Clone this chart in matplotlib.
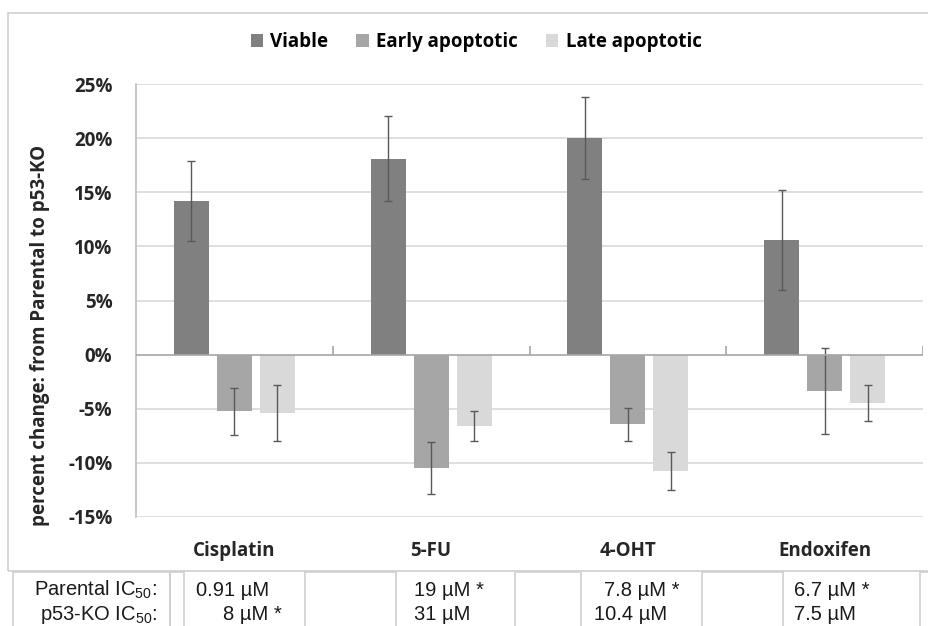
import matplotlib
matplotlib.use('Agg')
import matplotlib.pyplot as plt
import matplotlib.patches as mpatches
import numpy as np

# --- data ---
categories = ['Cisplatin', '5-FU', '4-OHT', 'Endoxifen']
series = ['Viable', 'Early apoptotic', 'Late apoptotic']

viable = [14.2, 18.1, 20.0, 10.6]
viable_err = [3.7, 3.9, 3.8, 4.6]
early = [-5.25, -10.5, -6.45, -3.35]
early_err = [2.15, 2.4, 1.5, 4.0]
late = [-5.4, -6.6, -10.75, -4.45]
late_err = [2.6, 1.4, 1.75, 1.65]

yticks = [-15, -10, -5, 0, 5, 10, 15, 20, 25]

parental_ic50 = ['0.91 µM', '19 µM *', '7.8 µM *', '6.7 µM *']
ko_ic50 = ['8 µM *', '31 µM', '10.4 µM', '7.5 µM']

# --- style ---
colors = ['#808080', '#a6a6a6', '#d9d9d9']
ERR_COLOR = '#595959'
GRID_COLOR = '#d9d9d9'
BOX_COLOR = '#cfcfcf'
W, H = 929, 626

plt.rcParams['font.family'] = ['Open Sans', 'DejaVu Sans']
plt.rcParams['mathtext.fontset'] = 'custom'
plt.rcParams['mathtext.rm'] = 'Liberation Sans'
plt.rcParams['mathtext.it'] = 'Liberation Sans:italic'
plt.rcParams['mathtext.bf'] = 'Liberation Sans:bold'


def fx(px):
    return px / W


def fy(py):
    return 1 - py / H


fig = plt.figure(figsize=(W / 100, H / 100), dpi=100)
fig.patch.set_facecolor('white')

# outer chart frame and table boxes (screenshot layout)
def box(x0, y0, x1, y1):
    fig.patches.append(mpatches.Rectangle((fx(x0), fy(y1)), fx(x1) - fx(x0), fy(y0) - fy(y1),
                                          transform=fig.transFigure, fill=False,
                                          edgecolor=BOX_COLOR, lw=1.2, zorder=0))

box(8, 13, 940, 571)
box(13, 572, 170, 640)
box(170, 572, 184, 640)
box(305, 572, 396, 640)
box(515, 572, 581, 640)
box(702, 572, 783, 640)
box(920, 572, 940, 640)

ax = fig.add_axes([fx(136), fy(517), fx(923) - fx(136), fy(84) - fy(517)])

x = np.arange(len(categories))
bw = 0.178
off = 0.218
err_kw = dict(ecolor=ERR_COLOR, elinewidth=1.0, capsize=2.6, capthick=1.0)
ax.bar(x - off, viable, bw, yerr=viable_err, color=colors[0], label=series[0], error_kw=err_kw, zorder=3)
ax.bar(x, early, bw, yerr=early_err, color=colors[1], label=series[1], error_kw=err_kw, zorder=3)
ax.bar(x + off, late, bw, yerr=late_err, color=colors[2], label=series[2], error_kw=err_kw, zorder=3)

ax.set_xlim(-0.5, len(categories) - 0.5)
ax.set_ylim(-15, 25)
for t in yticks:
    if t != 0:
        ax.axhline(t, color=GRID_COLOR, lw=1.2, zorder=1)
ax.axhline(0, color='#a6a6a6', lw=1.2, zorder=4)
ax.vlines(x + 0.5, 0, 0.8, color='#a6a6a6', lw=1.2, zorder=4)

for s in ['top', 'right', 'bottom']:
    ax.spines[s].set_visible(False)
ax.spines['left'].set_color('#bfbfbf')
ax.spines['left'].set_linewidth(1.2)

ax.set_yticks(yticks)
ax.set_yticklabels([f'{t}%' for t in yticks], fontsize=13.5, fontweight='bold', color='#262626')
ax.tick_params(axis='y', length=0, pad=17)
ax.set_xticks(x)
ax.set_xticklabels(categories, fontsize=13.5, fontweight='bold', color='#262626')
ax.tick_params(axis='x', length=0, pad=17)

fig.text(fx(40), fy(335), 'percent change: from Parental to p53-KO', rotation=90,
         ha='center', va='center', fontsize=13.5, fontweight='bold', color='#262626')

fig.legend(loc='center', bbox_to_anchor=(fx(476), fy(42)), ncol=3, frameon=False,
           prop={'weight': 'bold', 'size': 13.5}, handlelength=0.65, handleheight=0.65,
           handletextpad=0.4, columnspacing=1.5)

# IC50 table
tkw = dict(fontsize=14.5, family='Liberation Sans', color='#1a1a1a', va='center')
fig.text(fx(157), fy(590), 'Parental IC$_{\\mathregular{50}}$:', ha='right', **tkw)
fig.text(fx(157), fy(615), 'p53-KO IC$_{\\mathregular{50}}$:', ha='right', **tkw)

# x position / alignment of each text cell
row1_pos = [(196, 'left'), (414, 'left'), (604, 'left'), (794, 'left')]
row2_pos = [(282, 'right'), (414, 'left'), (594, 'left'), (794, 'left')]
for i in range(len(categories)):
    fig.text(fx(row1_pos[i][0]), fy(590), parental_ic50[i], ha=row1_pos[i][1], **tkw)
    fig.text(fx(row2_pos[i][0]), fy(615), ko_ic50[i], ha=row2_pos[i][1], **tkw)

fig.savefig('out.png', dpi=100, facecolor='white')
